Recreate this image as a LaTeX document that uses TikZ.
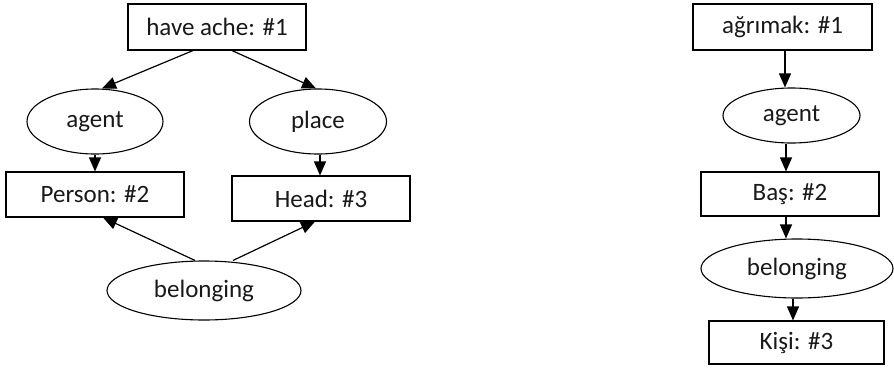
\documentclass[tikz,border=0pt]{standalone}
\usepackage{fontspec}
\setmainfont{Carlito}
\usetikzlibrary{arrows.meta,shapes.geometric,calc}
\tikzset{
  box/.style={draw,rectangle,line width=1.1pt,inner sep=0pt,font=\fontsize{25}{29}\selectfont,text=black!90},
  oval/.style={draw,ellipse,line width=1.1pt,inner sep=0pt,font=\fontsize{25}{29}\selectfont,text=black!90},
  arr/.style={line width=1.2pt,-{Triangle[length=14pt,width=12pt]}}
}
\begin{document}
\begin{tikzpicture}[x=1pt,y=-1pt]
\useasboundingbox (0,0) rectangle (894,367);
% left graph
\node[box,minimum width=178pt,minimum height=46pt] (n1) at (217,27) {have ache: \#1};
\node[oval,minimum width=136pt,minimum height=65pt] (agentL) at (95,121.5) {agent};
\node[oval,minimum width=137pt,minimum height=65pt] (placeL) at (318,121.5) {place};
\node[box,minimum width=178pt,minimum height=45pt] (person) at (95,194.5) {Person: \#2};
\node[box,minimum width=178pt,minimum height=45pt] (head) at (321,198.5) {Head: \#3};
\node[oval,minimum width=194pt,minimum height=59pt] (belongL) at (204,290.5) {belonging};
\draw[arr] ($(n1.south)+(-24,0)$) -- ($(agentL.north)+(7,0)$);
\draw[arr] ($(n1.south)+(15,0)$) -- ($(placeL.north)+(-2,0)$);
\draw[arr] (agentL.south) -- (person.north);
\draw[arr] ($(placeL.south)+(2,0)$) -- ($(head.north)+(-1,0)$);
\draw[arr] ($(belongL.north)+(-9,0)$) -- ($(person.south)+(8,0)$);
\draw[arr] ($(belongL.north)+(29,0)$) -- ($(head.south)+(-6,0)$);
% right graph
\node[box,minimum width=179pt,minimum height=46pt] (agrimak) at (782.5,27) {ağrımak: \#1};
\node[oval,minimum width=137pt,minimum height=55pt] (agentR) at (791.5,115.5) {agent};
\node[box,minimum width=178pt,minimum height=44pt] (bas) at (790,194) {Baş: \#2};
\node[oval,minimum width=192pt,minimum height=59pt] (belongR) at (797,268.5) {belonging};
\node[box,minimum width=175pt,minimum height=43pt] (kisi) at (796.5,342.5) {Kişi: \#3};
\draw[arr] ($(agrimak.south)+(2.5,0)$) -- ($(agentR.north)+(-6.5,0)$);
\draw[arr] ($(agentR.south)+(-5.5,0)$) -- ($(bas.north)+(-4,0)$);
\draw[arr] ($(bas.south)+(-4,0)$) -- ($(belongR.north)+(-11,0)$);
\draw[arr] ($(belongR.south)+(-4,0)$) -- ($(kisi.north)+(-3.5,0)$);
\end{tikzpicture}
\end{document}
